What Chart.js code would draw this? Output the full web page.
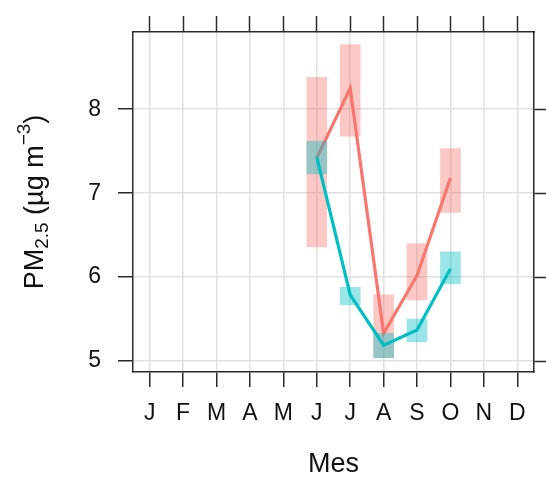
<!DOCTYPE html>
<html>
<head>
<meta charset="utf-8">
<script src="https://cdn.jsdelivr.net/npm/chart.js@4/dist/chart.umd.min.js"></script>
<style>
  html, body { margin: 0; padding: 0; background: #fff; }
  #wrap { width: 546px; height: 481px; }
</style>
</head>
<body>
<div id="wrap"><canvas id="pmChart" width="546" height="481"></canvas></div>
<script>
const months = ['J', 'F', 'M', 'A', 'M', 'J', 'J', 'A', 'S', 'O', 'N', 'D'];
const monthNum = [6, 7, 8, 9, 10];
const yTicks = [5, 6, 7, 8];

// red group
const redMean = [7.42, 8.25, 5.33, 6.02, 7.18];
const redLow = [6.36, 7.68, 5.04, 5.73, 6.77];
const redHigh = [8.38, 8.77, 5.79, 6.40, 7.53];

// teal group
const tealMean = [7.43, 5.79, 5.19, 5.37, 6.10];
const tealLow = [7.23, 5.67, 5.04, 5.23, 5.92];
const tealHigh = [7.62, 5.88, 5.33, 5.50, 6.30];

const RED = '#F8766D';
const TEAL = '#00BFC4';
const FONT = 'Liberation Sans, Arial, sans-serif';

function pts(vals) {
    return monthNum.map((m, i) => ({ x: m, y: vals[i] }));
}
function boxes(lo, hi) {
    return monthNum.map((m, i) => ({ x: m, y: [lo[i], hi[i]] }));
}

// y title with subscript / superscript
const yTitle = {
    id: 'yTitle',
    afterDraw(chart) {
        const c = chart.ctx;
        const area = chart.chartArea;
        const parts = [
            { t: 'PM', size: 27, dy: 0 },
            { t: '2.5', size: 19, dy: 7 },
            { t: ' (\u00b5g m', size: 27, dy: 0 },
            { t: '\u22123', size: 19, dy: -11 },
            { t: ')', size: 27, dy: 0 }
        ];
        c.save();
        let total = 0;
        parts.forEach(p => {
            c.font = p.size + 'px ' + FONT;
            p.w = c.measureText(p.t).width;
            total += p.w;
        });
        c.translate(36, (area.top + area.bottom) / 2);
        c.rotate(-Math.PI / 2);
        c.fillStyle = '#111';
        c.textBaseline = 'middle';
        c.textAlign = 'left';
        let x = -total / 2;
        parts.forEach(p => {
            c.font = p.size + 'px ' + FONT;
            c.fillText(p.t, x, p.dy);
            x += p.w;
        });
        c.restore();
    }
};

const gridCol = '#e0e0e0';
const axisCol = '#2a2a2a';

const ctx = document.getElementById('pmChart').getContext('2d');
const chart = new Chart(ctx, {
    type: 'line',
    data: {
        datasets: [
            {
                type: 'bar',
                data: boxes(redLow, redHigh),
                backgroundColor: 'rgba(248,118,109,0.4)',
                borderWidth: 0,
                barThickness: 20,
                grouped: false,
                order: 4
            },
            {
                data: pts(redMean),
                borderColor: RED,
                borderWidth: 3.2,
                pointRadius: 0,
                tension: 0,
                order: 3
            },
            {
                type: 'bar',
                data: boxes(tealLow, tealHigh),
                backgroundColor: 'rgba(0,191,196,0.4)',
                borderWidth: 0,
                barThickness: 20,
                grouped: false,
                order: 2
            },
            {
                data: pts(tealMean),
                borderColor: TEAL,
                borderWidth: 3.2,
                pointRadius: 0,
                tension: 0,
                order: 1
            }
        ]
    },
    options: {
        responsive: false,
        animation: false,
        layout: { padding: 0 },
        plugins: { legend: { display: false }, tooltip: { enabled: false } },
        scales: {
            x: {
                type: 'linear',
                position: 'bottom',
                min: 0.5,
                max: 12.5,
                offset: false,
                afterBuildTicks: s => { s.ticks = months.map((m, i) => ({ value: i + 1 })); },
                afterFit: s => { s.height = 109; },
                ticks: {
                    callback: v => months[v - 1],
                    color: '#111',
                    font: { family: FONT, size: 23 },
                    padding: 13,
                    maxRotation: 0,
                    autoSkip: false
                },
                grid: { color: gridCol, lineWidth: 1.5, tickColor: axisCol, tickLength: 15, tickWidth: 1.5, offset: false },
                border: { color: axisCol, width: 1.5 },
                title: { display: true, text: 'Mes', color: '#111', font: { family: FONT, size: 27 }, padding: 0 }
            },
            x2: {
                type: 'linear',
                position: 'top',
                min: 0.5,
                max: 12.5,
                offset: false,
                afterBuildTicks: s => { s.ticks = months.map((m, i) => ({ value: i + 1 })); },
                afterFit: s => { s.height = 32; },
                ticks: { display: false },
                grid: { drawOnChartArea: false, tickColor: axisCol, tickLength: 16, tickWidth: 1.5 },
                border: { color: axisCol, width: 1.5 }
            },
            y: {
                type: 'linear',
                position: 'left',
                min: 4.87,
                max: 8.92,
                beginAtZero: false,
                afterBuildTicks: s => { s.ticks = yTicks.map(v => ({ value: v })); },
                afterFit: s => { s.width = 133; },
                ticks: {
                    color: '#111',
                    font: { family: FONT, size: 23 },
                    padding: 17
                },
                grid: { color: gridCol, lineWidth: 1.5, tickColor: axisCol, tickLength: 15, tickWidth: 1.5 },
                border: { color: axisCol, width: 1.5 }
            },
            y2: {
                type: 'linear',
                position: 'right',
                min: 4.87,
                max: 8.92,
                afterBuildTicks: s => { s.ticks = yTicks.map(v => ({ value: v })); },
                afterFit: s => { s.width = 12; },
                ticks: { display: false },
                grid: { drawOnChartArea: false, tickColor: axisCol, tickLength: 15, tickWidth: 1.5 },
                border: { color: axisCol, width: 1.5 }
            }
        }
    },
    plugins: [yTitle]
});
</script>
</body>
</html>
